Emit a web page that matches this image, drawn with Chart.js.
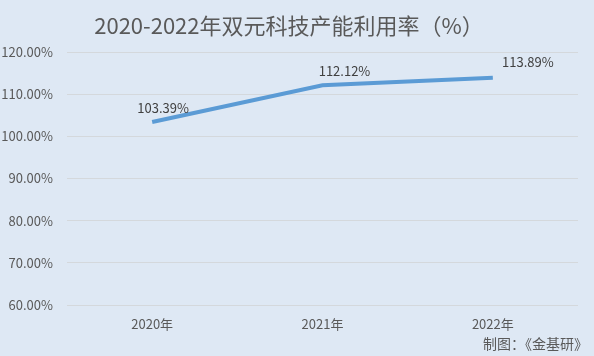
<!DOCTYPE html>
<html><head><meta charset="utf-8">
<script src="https://cdn.jsdelivr.net/npm/chart.js@4"></script>
<style>html,body{margin:0;padding:0;background:#dee8f4;}#wrap{width:594px;height:356px;}</style>
</head><body><div id="wrap"><canvas id="c" width="594" height="356"></canvas></div>
<script>
const title = '2020-2022年双元科技产能利用率（%）';
const categories = ['2020年', '2021年', '2022年'];
const utilization = [103.39, 112.12, 113.89];
const yMin = 60, yMax = 120, yStep = 10;
const footer = '制图：《金基研》';

const FONT = '"Noto Sans CJK SC", "Noto Sans", sans-serif';
const labelShift = [[11, -14], [22, -14], [35, -16]];

const decor = {
  id: 'decor',
  beforeDraw(chart) {
    const ctx = chart.ctx;
    ctx.save();
    ctx.fillStyle = '#dee8f4';
    ctx.fillRect(0, 0, chart.width, chart.height);
    ctx.restore();
  },
  afterDraw(chart) {
    const ctx = chart.ctx;
    ctx.save();
    ctx.fillStyle = '#595959';
    ctx.font = '22px ' + FONT;
    ctx.textAlign = 'center';
    ctx.textBaseline = 'middle';
    ctx.fillText(title, 289, 26);
    ctx.font = '14px ' + FONT;
    ctx.textAlign = 'right';
    ctx.fillText(footer, 588, 344);
    const meta = chart.getDatasetMeta(0);
    ctx.fillStyle = '#404040';
    ctx.font = '13px ' + FONT;
    ctx.textAlign = 'center';
    meta.data.forEach((pt, i) => {
      const s = labelShift[i] || [0, -15];
      ctx.fillText(utilization[i].toFixed(2) + '%', pt.x + s[0], pt.y + s[1]);
    });
    ctx.restore();
  }
};

new Chart(document.getElementById('c'), {
  type: 'line',
  data: {
    labels: categories,
    datasets: [{
      data: utilization,
      borderColor: '#5b9bd5',
      borderWidth: 4,
      pointRadius: 0,
      tension: 0,
      fill: false
    }]
  },
  options: {
    responsive: false,
    animation: false,
    layout: { padding: { top: 52, right: 16, bottom: 21, left: 0 } },
    plugins: { legend: { display: false }, tooltip: { enabled: false } },
    scales: {
      x: {
        offset: true,
        grid: { display: false, drawTicks: false },
        border: { display: false },
        ticks: { color: '#595959', font: { family: FONT, size: 13 }, padding: 11 },
        afterFit(s) { s.height = 30; }
      },
      y: {
        min: yMin, max: yMax,
        ticks: {
          stepSize: yStep,
          color: '#595959',
          font: { family: FONT, size: 13 },
          padding: 14,
          callback: v => v.toFixed(2) + '%'
        },
        grid: { color: '#d4d8dc', drawTicks: false, lineWidth: 1 },
        border: { display: false },
        afterFit(s) { s.width = 67; }
      }
    }
  },
  plugins: [decor]
});
</script></body></html>
